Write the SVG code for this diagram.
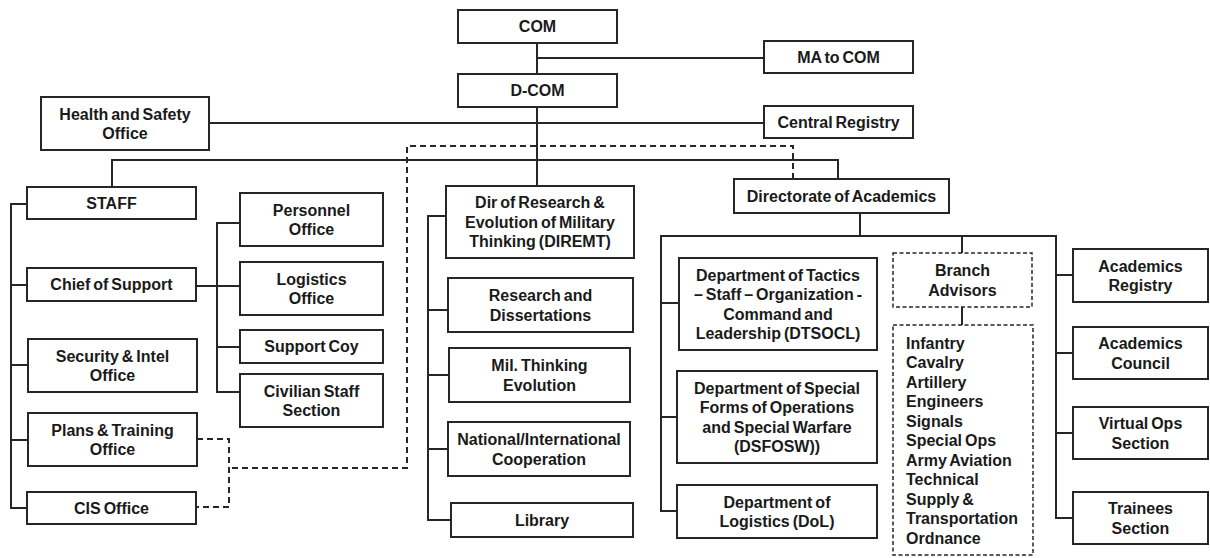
<svg xmlns="http://www.w3.org/2000/svg" width="1210" height="558" viewBox="0 0 1210 558">
<style>
.b{fill:#fff;stroke:#262626;stroke-width:2}
.d{fill:#fff;stroke:#262626;stroke-width:1.5;stroke-dasharray:4 2.5}
text{font-family:"Liberation Sans",Arial,sans-serif;font-weight:bold;font-size:16px;fill:#1a1a1a;text-anchor:middle;word-spacing:-1.5px}
.l{text-anchor:start}
.c{fill:none;stroke:#262626;stroke-width:2}
.cd{fill:none;stroke:#262626;stroke-width:2;stroke-dasharray:6 4}
</style>
<rect width="1210" height="558" fill="#fff"/>
<g id="connectors">
<path class="c" d="M537,43V74M537,58H764M537,107V186M209,123H764M112,187V160H838V179"/>
<path class="c" d="M27,204H11V508H27M11,285H27M11,365H28M11,440H28"/>
<path class="c" d="M196,286H240M240,223H217V392H240M217,347H240"/>
<path class="c" d="M446,216H428V520H451M428,310H448M428,375H449M428,449H448"/>
<path class="c" d="M860,213V236M677,511H661V236H1056V518H1073M661,303H679M661,417H677M962,236V253M962,307V325M1056,275H1073M1056,353H1073M1056,433H1073"/>
<path class="cd" d="M793,179V146H407V468H229M197,439H229V507H196"/>
</g>
<g id="com"><rect class="b" x="458" y="10" width="159" height="33"/><text x="537.5" y="32">COM</text></g>
<g id="ma-to-com"><rect class="b" x="764" y="41" width="149" height="32"/><text x="838.5" y="62.5">MA to COM</text></g>
<g id="d-com"><rect class="b" x="458" y="74" width="159" height="33"/><text x="537.5" y="96">D-COM</text></g>
<g id="health-safety"><rect class="b" x="41" y="97" width="168" height="53"/><text x="125" y="119.5">Health and Safety</text><text x="125" y="139">Office</text></g>
<g id="central-registry"><rect class="b" x="764" y="106" width="149" height="32"/><text x="838.5" y="127.5">Central Registry</text></g>
<g id="staff"><rect class="b" x="27" y="187" width="169" height="32"/><text x="111.5" y="208.5">STAFF</text></g>
<g id="chief-support"><rect class="b" x="27" y="268" width="169" height="33"/><text x="111.5" y="290">Chief of Support</text></g>
<g id="security-intel"><rect class="b" x="28" y="339" width="169" height="53"/><text x="112.5" y="361.5">Security &amp; Intel</text><text x="112.5" y="381">Office</text></g>
<g id="plans-training"><rect class="b" x="28" y="413" width="169" height="53"/><text x="112.5" y="435.5">Plans &amp; Training</text><text x="112.5" y="455">Office</text></g>
<g id="cis-office"><rect class="b" x="27" y="492" width="169" height="32"/><text x="111.5" y="513.5">CIS Office</text></g>
<g id="personnel"><rect class="b" x="240" y="193" width="143" height="53"/><text x="311.5" y="215.5">Personnel</text><text x="311.5" y="235">Office</text></g>
<g id="logistics-office"><rect class="b" x="240" y="262" width="143" height="53"/><text x="311.5" y="284.5">Logistics</text><text x="311.5" y="304">Office</text></g>
<g id="support-coy"><rect class="b" x="240" y="330" width="143" height="33"/><text x="311.5" y="352">Support Coy</text></g>
<g id="civilian-staff"><rect class="b" x="240" y="374" width="143" height="53"/><text x="311.5" y="396.5">Civilian Staff</text><text x="311.5" y="416">Section</text></g>
<g id="diremt"><rect class="b" x="446" y="186" width="188" height="72"/><text x="540" y="208">Dir of Research &amp;</text><text x="540" y="227.5">Evolution of Military</text><text x="540" y="247">Thinking (DIREMT)</text></g>
<g id="research-dissertations"><rect class="b" x="448" y="278" width="185" height="54"/><text x="540.5" y="301">Research and</text><text x="540.5" y="320.5">Dissertations</text></g>
<g id="mil-thinking"><rect class="b" x="449" y="348" width="181" height="54"/><text x="539.5" y="371">Mil. Thinking</text><text x="539.5" y="390.5">Evolution</text></g>
<g id="national-international"><rect class="b" x="448" y="422" width="182" height="54"/><text x="539" y="445">National/International</text><text x="539" y="464.5">Cooperation</text></g>
<g id="library"><rect class="b" x="451" y="503" width="182" height="34"/><text x="542" y="525.5">Library</text></g>
<g id="directorate-academics"><rect class="b" x="734" y="179" width="215" height="34"/><text x="841.5" y="201.5">Directorate of Academics</text></g>
<g id="dtsocl"><rect class="b" x="679" y="258" width="198" height="92"/><text x="778" y="280.5">Department of Tactics</text><text x="778" y="300">– Staff – Organization -</text><text x="778" y="319.5">Command and</text><text x="778" y="339">Leadership (DTSOCL)</text></g>
<g id="dsfosw"><rect class="b" x="677" y="371" width="200" height="92"/><text x="777" y="393.5">Department of Special</text><text x="777" y="413">Forms of Operations</text><text x="777" y="432.5">and Special Warfare</text><text x="777" y="452">(DSFOSW))</text></g>
<g id="dol"><rect class="b" x="677" y="485" width="200" height="53"/><text x="777" y="507.5">Department of</text><text x="777" y="527">Logistics (DoL)</text></g>
<g id="branch-advisors"><rect class="d" x="893" y="253" width="139" height="54"/><text x="962.5" y="276">Branch</text><text x="962.5" y="295.5">Advisors</text></g>
<g id="branch-list"><rect class="d" x="893" y="325" width="140" height="230"/>
<text class="l" x="906" y="348.5">Infantry</text>
<text class="l" x="906" y="368">Cavalry</text>
<text class="l" x="906" y="387.5">Artillery</text>
<text class="l" x="906" y="407">Engineers</text>
<text class="l" x="906" y="426.5">Signals</text>
<text class="l" x="906" y="446">Special Ops</text>
<text class="l" x="906" y="465.5">Army Aviation</text>
<text class="l" x="906" y="485">Technical</text>
<text class="l" x="906" y="504.5">Supply &amp;</text>
<text class="l" x="906" y="524">Transportation</text>
<text class="l" x="906" y="543.5">Ordnance</text>
</g>
<g id="academics-registry"><rect class="b" x="1073" y="249" width="135" height="53"/><text x="1140.5" y="271.5">Academics</text><text x="1140.5" y="291">Registry</text></g>
<g id="academics-council"><rect class="b" x="1073" y="327" width="135" height="52"/><text x="1140.5" y="349">Academics</text><text x="1140.5" y="368.5">Council</text></g>
<g id="virtual-ops"><rect class="b" x="1073" y="407" width="135" height="52"/><text x="1140.5" y="429">Virtual Ops</text><text x="1140.5" y="448.5">Section</text></g>
<g id="trainees"><rect class="b" x="1073" y="492" width="135" height="52"/><text x="1140.5" y="514">Trainees</text><text x="1140.5" y="533.5">Section</text></g>
</svg>
